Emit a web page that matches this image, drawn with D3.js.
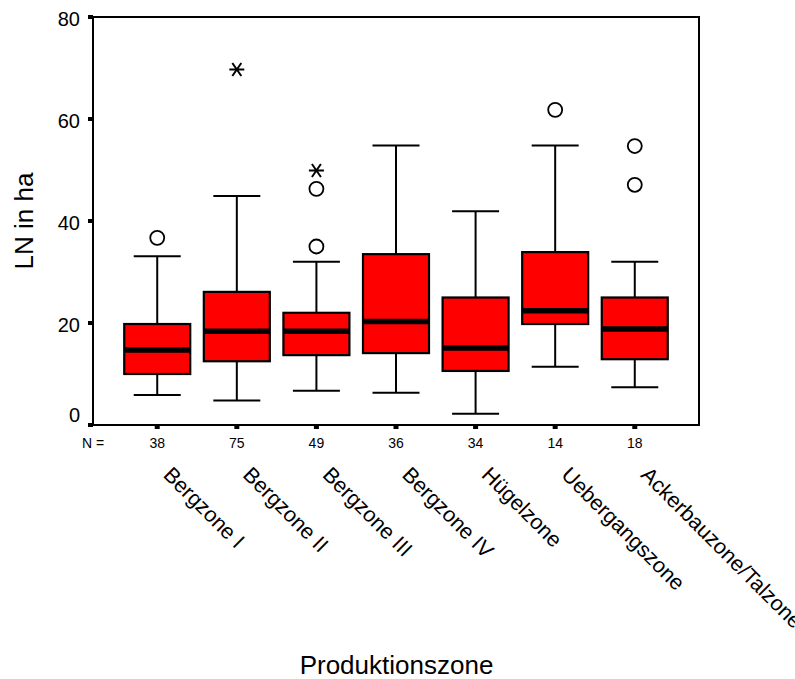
<!DOCTYPE html>
<html>
<head>
<meta charset="utf-8">
<script src="https://cdn.jsdelivr.net/npm/d3@7"></script>
<style>
  html, body { margin: 0; padding: 0; background: #fff; }
  svg { display: block; }
  text { font-family: "Liberation Sans", Arial, sans-serif; fill: #000; }
</style>
</head>
<body>
<svg id="chart" width="795" height="679"></svg>
<script>
// ---- Data ----
const categories = ["Bergzone I", "Bergzone II", "Bergzone III", "Bergzone IV", "Hügelzone", "Uebergangszone", "Ackerbauzone/Talzone"];
const counts = [38, 75, 49, 36, 34, 14, 18];
const whiskerLow = [5.9, 4.8, 6.7, 6.3, 2.2, 11.4, 7.4];
const q1 = [10.0, 12.5, 13.7, 14.1, 10.6, 19.8, 12.9];
const medians = [14.7, 18.4, 18.4, 20.3, 15.1, 22.4, 18.8];
const q3 = [19.8, 26.1, 22.0, 33.5, 25.0, 33.9, 25.0];
const whiskerHigh = [33.1, 44.9, 32.0, 54.8, 41.9, 54.8, 32.0];
const outliers = [[36.7], [], [35.0, 46.3], [], [], [61.8], [47.1, 54.7]];
const extremes = [[], [69.7], [49.9], [], [], [], []];
const yTicks = [0, 20, 40, 60, 80];
const yTitle = "LN in ha";
const xTitle = "Produktionszone";
const nLabel = "N =";

// ---- Layout ----
const svg = d3.select("#chart");
const plotLeft = 93, plotRight = 699, plotTop = 17, plotBottom = 425;

const y = d3.scaleLinear().domain([0, 80]).range([plotBottom, plotTop]);
const x = d3.scalePoint().domain(categories).range([plotLeft, plotRight]).padding(0.807);

const boxHalf = 33, capHalf = 23.5;

const rows = categories.map((c, i) => ({
  c, i, n: counts[i], lo: whiskerLow[i], q1: q1[i], med: medians[i],
  q3: q3[i], hi: whiskerHigh[i], out: outliers[i], ext: extremes[i]
}));

// frame
svg.append("rect")
  .attr("x", plotLeft).attr("y", plotTop)
  .attr("width", plotRight - plotLeft).attr("height", plotBottom - plotTop)
  .attr("fill", "none").attr("stroke", "#000").attr("stroke-width", 2);

// y ticks (small squares) and labels
const yg = svg.append("g");
yg.selectAll("rect.yt").data(yTicks).join("rect")
  .attr("class", "yt")
  .attr("x", plotLeft - 5).attr("y", d => y(d) - 2)
  .attr("width", 5).attr("height", 4).attr("fill", "#000");
yg.selectAll("text.yl").data(yTicks).join("text")
  .attr("class", "yl")
  .attr("x", 80)
  .attr("y", d => y(d) + (d === 0 ? -10 : 2))
  .attr("dy", "0.35em")
  .attr("text-anchor", "end")
  .attr("font-size", 20)
  .text(d => d);

// x ticks (small squares)
svg.selectAll("rect.xt").data(categories).join("rect")
  .attr("class", "xt")
  .attr("x", d => x(d) - 2.5).attr("y", plotBottom)
  .attr("width", 5).attr("height", 4).attr("fill", "#000");

// boxes
const g = svg.append("g").selectAll("g.box").data(rows).join("g").attr("class", "box");

// whisker vertical lines
g.append("line")
  .attr("x1", d => x(d.c)).attr("x2", d => x(d.c))
  .attr("y1", d => y(d.hi)).attr("y2", d => y(d.q3))
  .attr("stroke", "#000").attr("stroke-width", 2);
g.append("line")
  .attr("x1", d => x(d.c)).attr("x2", d => x(d.c))
  .attr("y1", d => y(d.q1)).attr("y2", d => y(d.lo))
  .attr("stroke", "#000").attr("stroke-width", 2);
// caps
g.append("line")
  .attr("x1", d => x(d.c) - capHalf).attr("x2", d => x(d.c) + capHalf)
  .attr("y1", d => y(d.hi)).attr("y2", d => y(d.hi))
  .attr("stroke", "#000").attr("stroke-width", 2);
g.append("line")
  .attr("x1", d => x(d.c) - capHalf).attr("x2", d => x(d.c) + capHalf)
  .attr("y1", d => y(d.lo)).attr("y2", d => y(d.lo))
  .attr("stroke", "#000").attr("stroke-width", 2);
// box
g.append("rect")
  .attr("x", d => x(d.c) - boxHalf)
  .attr("y", d => y(d.q3))
  .attr("width", boxHalf * 2)
  .attr("height", d => y(d.q1) - y(d.q3))
  .attr("fill", "#ff0000").attr("stroke", "#000").attr("stroke-width", 2.2);
// median
g.append("line")
  .attr("x1", d => x(d.c) - boxHalf).attr("x2", d => x(d.c) + boxHalf)
  .attr("y1", d => y(d.med)).attr("y2", d => y(d.med))
  .attr("stroke", "#000").attr("stroke-width", 5.5);

// outliers (circles) and extremes (stars)
g.each(function(d) {
  const sel = d3.select(this);
  sel.selectAll("circle").data(d.out).join("circle")
    .attr("cx", x(d.c)).attr("cy", v => y(v))
    .attr("r", 7)
    .attr("fill", "none").attr("stroke", "#000").attr("stroke-width", 1.8);
  sel.selectAll("path.star").data(d.ext).join("path")
    .attr("class", "star")
    .attr("transform", v => `translate(${x(d.c)},${y(v)})`)
    .attr("d", "M-7.5,0L7.5,0M-4.5,-6.5L4.5,6.5M-4.5,6.5L4.5,-6.5")
    .attr("fill", "none").attr("stroke", "#000").attr("stroke-width", 2);
});

// N row
svg.append("text")
  .attr("x", 82).attr("y", 448)
  .attr("font-size", 14)
  .text(nLabel);
svg.selectAll("text.n").data(rows).join("text")
  .attr("class", "n")
  .attr("x", d => x(d.c)).attr("y", 448)
  .attr("text-anchor", "middle")
  .attr("font-size", 14)
  .text(d => d.n);

// category labels rotated 45°
svg.selectAll("text.cat").data(categories).join("text")
  .attr("class", "cat")
  .attr("transform", d => `translate(${x(d) + 5},476) rotate(45)`)
  .attr("font-size", 21.5)
  .text(d => d);

// axis titles
svg.append("text")
  .attr("transform", "translate(33,221) rotate(-90)")
  .attr("text-anchor", "middle")
  .attr("font-size", 26)
  .text(yTitle);
svg.append("text")
  .attr("x", 396.5).attr("y", 674)
  .attr("text-anchor", "middle")
  .attr("font-size", 26)
  .text(xTitle);
</script>
</body>
</html>
